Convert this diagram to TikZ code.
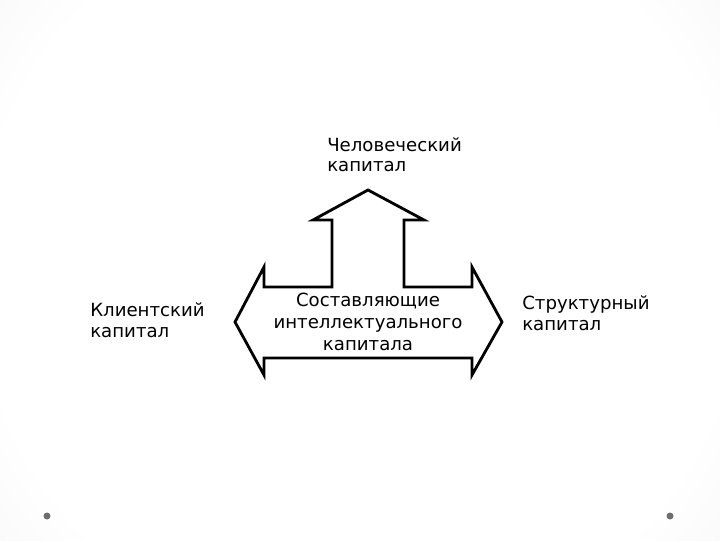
\documentclass[tikz,border=0pt]{standalone}
\usepackage{fontspec}
\setmainfont{DejaVu Sans}
\definecolor{SlideGray}{HTML}{DCDCDC}
\definecolor{DotGray}{HTML}{6E6E6E}
\pgfdeclareradialshading{slidebg}{\pgfpoint{0bp}{0bp}}{color(0bp)=(white); color(21bp)=(white); color(50bp)=(SlideGray)}

\begin{document}
\begin{tikzpicture}[x=0.025cm,y=0.025cm,line join=miter,
  lbl/.style={inner sep=0pt,align=left,font=\fontsize{12.9pt}{14.5pt}\selectfont}]
  \begin{scope}
    \clip (0,0) rectangle (720,540);
    \shade[shading=slidebg] (360,270) circle (450);
  \end{scope}
  \useasboundingbox (0,0) rectangle (720,540);
  \fill[DotGray] (47,24) circle (3.5); \fill[DotGray] (670,24) circle (3.5);
  % three-way arrow
  \draw[line width=2pt] (368,350)--(424,320)--(404,320)--(404,253)--(472,253)--(472,273)--(502,218)
    --(472,165)--(472,182)--(264,182)--(264,165)--(235,218)--(264,273)--(264,253)--(332,253)
    --(332,320)--(313,320)--cycle;
  \node[lbl,align=center,anchor=base,font=\fontsize{12.9pt}{15.3pt}\selectfont] (core) at (368,190) {Составляющие\\интеллектуального\\капитала};
  \node[lbl,anchor=base west] (human) at (327,368) {Человеческий\\капитал};
  \node[lbl,anchor=base west] (client) at (90,203) {Клиентский\\капитал};
  \node[lbl,anchor=base west] (struct) at (522,210) {Структурный\\капитал};
\end{tikzpicture}
\end{document}
